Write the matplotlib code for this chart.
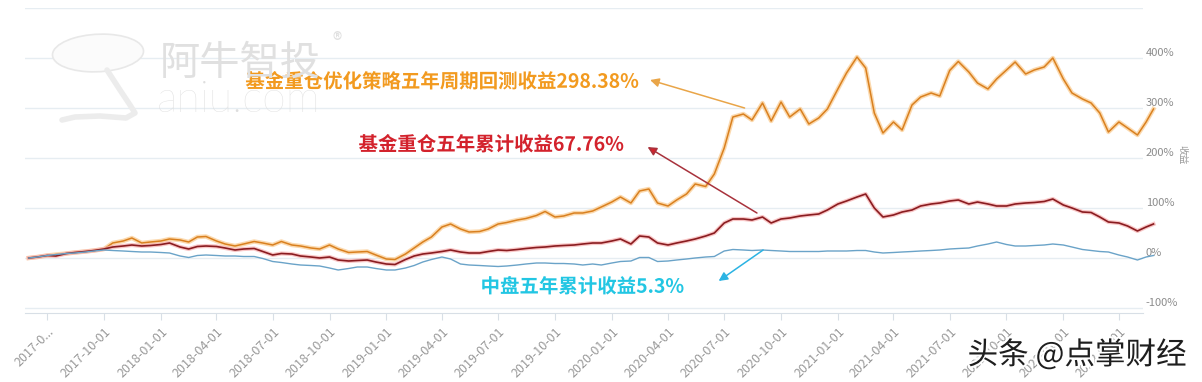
import matplotlib
matplotlib.use('Agg')
import matplotlib.pyplot as plt
import matplotlib.dates as mdates
import matplotlib.patheffects as pe
from matplotlib.patches import Ellipse
from matplotlib.lines import Line2D
import pandas as pd

plt.rcParams['font.family'] = ['Noto Sans CJK SC', 'DejaVu Sans']

# sample dates: 1st and 15th of every month, plus the last day of the backtest
dates = list(pd.date_range('2017-06-01', '2022-05-15', freq='SMS')) + [pd.Timestamp('2022-05-27')]

# cumulative return in %
strategy = [0, 2, 5, 7, 9, 11, 13, 15, 18, 30, 34, 40, 30, 32,
            34, 38, 36, 32, 42, 43, 34, 28, 24, 28, 33, 30, 26, 33, 26, 24, 20, 18, 26, 18, 11, 12, 13, 6,
            -2, -3, 8, 20, 32, 42, 62, 68, 58, 52, 53, 58, 68, 71, 76, 79, 85, 93, 82, 84, 90, 90, 94, 102,
            112, 122, 110, 134, 138, 110, 104, 116, 128, 148, 143, 168, 220, 282, 288, 276, 310, 274, 312, 282,
            298, 268, 280, 298,
            338, 370, 402, 380, 290, 250, 272, 256, 306, 322, 330, 324, 375, 393, 372, 350, 338, 358, 376, 392,
            368, 376, 382, 400,
            358, 330, 318, 310, 290, 252, 272, 260, 246, 272, 298]
fund_heavy = [0, 2, 5, 4, 9, 11, 13, 15, 18, 22, 24, 26, 24, 25,
              27, 30, 22, 18, 23, 24, 23, 20, 16, 18, 19, 13, 6, 9, 8, 4, 2, 0, 2, -4, -6, -5, -4, -8,
              -12, -13, -3, 4, 8, 10, 13, 16, 12, 10, 10, 13, 16, 15, 17, 19, 21, 22, 24, 25, 26, 28, 30, 30,
              34, 38, 28, 44, 42, 30, 26, 30, 34, 38, 44, 50, 70, 78, 78, 76, 82, 70, 78, 80, 84, 86, 88, 96,
              108, 114, 122, 128, 100, 82, 86, 92, 96, 104, 108, 110, 114, 116, 108, 112, 108, 104, 104, 108,
              110, 111, 113, 118,
              106, 100, 92, 91, 82, 72, 70, 64, 54, 62, 68]
mid_cap = [0, 2, 5, 7, 9, 10, 12, 14, 16, 15, 14, 13, 12, 12,
           11, 10, 4, 1, 5, 6, 5, 4, 4, 3, 3, -1, -7, -9, -12, -14, -15, -16, -20, -24, -21, -18, -18, -21,
           -24, -24, -20, -15, -8, -3, 2, -2, -12, -14, -15, -16, -17, -16, -14, -12, -10, -10, -11, -11,
           -12, -14, -12, -14,
           -10, -7, -6, 1, 1, -7, -6, -4, -2, 0, 2, 3, 14, 17, 16, 15, 16, 15, 14, 13, 13, 13, 13, 14,
           14, 14, 15, 15, 12, 10, 11, 12, 13, 14, 15, 16, 18, 19, 20, 24, 28, 32, 27, 24, 24, 25, 26, 28,
           26, 22, 17, 15, 13, 12, 6, 2, -4, 2, 5]

# axis ticks
tick_dates = pd.date_range('2017-07-01', '2022-04-01', freq='QS')
tick_labels = ['2017-0...'] + [d.strftime('%Y-%m-%d') for d in tick_dates[1:]]
y_ticks = [-100, 0, 100, 200, 300, 400, 500]
y_labels = ['-100%', '0%', '100%', '200%', '300%', '400%', '']

# annotations: text, colours, text anchor (date, value), arrow head, arrow tail
notes = [
    ('基金重仓优化策略五年周期回测收益298.38%', '#f29a1f', '#e9a548', '#e9a548',
     ('2020-02-15', 352), ('2020-03-03', 356), ('2020-08-03', 300)),
    ('基金重仓五年累计收益67.76%', '#d3222c', '#a8323c', '#d3222c',
     ('2020-01-22', 226), ('2020-02-28', 222), ('2020-08-23', 90)),
    ('中盘五年累计收益5.3%', '#22c6e3', '#2bb3e3', '#2bb3e3',
     ('2020-04-28', -58), ('2020-06-22', -46), ('2020-09-02', 16)),
]


def d2n(s):
    return mdates.date2num(pd.Timestamp(s))


def main():
    W, H = 1202, 382
    fig = plt.figure(figsize=(W / 100, H / 100), dpi=100)
    ax = fig.add_axes([25 / W, 69 / H, 1118 / W, 305 / H])

    # lines with a soft glow underneath
    ax.plot(dates, strategy, color='#fbd09a', lw=3.2, alpha=0.8, clip_on=False, solid_joinstyle='round')
    ax.plot(dates, strategy, color='#d9801f', lw=1.1, clip_on=False)
    ax.plot(dates, fund_heavy, color='#f7b0b0', lw=3, alpha=0.7, clip_on=False, solid_joinstyle='round')
    ax.plot(dates, fund_heavy, color='#8a1c20', lw=1.2, clip_on=False)
    ax.plot(dates, mid_cap, color='#6aa3c8', lw=1.0, clip_on=False)

    ax.set_xlim(pd.Timestamp('2017-05-26'), pd.Timestamp('2022-05-10'))
    ax.set_ylim(-110, 500)

    # y axis on the right
    ax.yaxis.tick_right()
    ax.set_yticks(y_ticks)
    ax.set_yticklabels(y_labels)
    ax.tick_params(axis='y', length=0, pad=2, labelsize=8, labelcolor='#8c8c8c')
    for lab in ax.get_yticklabels():
        lab.set_va('bottom')
    ax.grid(axis='y', color='#e6edf2', lw=1)
    ax.set_axisbelow(True)

    # x axis
    ax.set_xticks(tick_dates)
    ax.set_xticklabels(tick_labels, rotation=45, ha='right', va='top',
                       rotation_mode='anchor', fontsize=9, color='#999999')
    ax.tick_params(axis='x', length=5, color='#d8dfe6', pad=4)
    for side in ['left', 'right', 'top']:
        ax.spines[side].set_visible(False)
    ax.spines['bottom'].set_color('#d8dfe6')

    # annotations with arrows
    halo = [pe.withStroke(linewidth=3, foreground='white')]
    for text, tcolor, lcolor, hcolor, pos, head, tail in notes:
        ax.text(d2n(pos[0]), pos[1], text, color=tcolor, fontsize=14, fontweight='bold',
                ha='right', va='center', path_effects=halo)
        ax.annotate('', xy=(d2n(head[0]), head[1]), xytext=(d2n(tail[0]), tail[1]),
                    arrowprops=dict(arrowstyle='-|>', color=lcolor, fc=hcolor, lw=1.1,
                                    mutation_scale=13, shrinkA=0, shrinkB=0))

    # axis name
    fig.text(1182 / W, 1 - 155 / H, '收益', rotation=270, fontsize=7, color='#9a9a9a',
             ha='center', va='center')

    # watermark top left (logo, name, site)
    fig.patches.append(Ellipse((98 / W, 1 - 53 / H), 90 / W, 38 / H, angle=-10,
                               transform=fig.transFigure, fc='#fbfbfb', ec='#e8e8e8', lw=1.2))
    tail_x = [107, 120, 130, 135, 126, 100, 75, 62]
    tail_y = [70, 90, 105, 113, 118, 116, 117, 120]
    fig.add_artist(Line2D([x / W for x in tail_x], [1 - y / H for y in tail_y],
                          transform=fig.transFigure, color='#ececec', lw=4,
                          solid_capstyle='round', solid_joinstyle='round'))
    fig.text(160 / W, 1 - 63 / H, '阿牛智投', fontsize=29, color='#e0e0e0', va='center')
    fig.text(333 / W, 1 - 42 / H, '®', fontsize=14, color='#e0e0e0', va='center')
    fig.text(157 / W, 1 - 100 / H, 'aniu.com', fontsize=31, color='#dedede', va='center',
             family=['Lato', 'DejaVu Sans'], fontweight='light')

    # watermark bottom right
    fig.text(1077 / W, 1 - 355 / H, '头条 @点掌财经', fontsize=22, color='#1e1e1e',
             ha='center', va='center', path_effects=[pe.withStroke(linewidth=3, foreground='white')])

    fig.savefig('out.png', dpi=100)


if __name__ == '__main__':
    main()
